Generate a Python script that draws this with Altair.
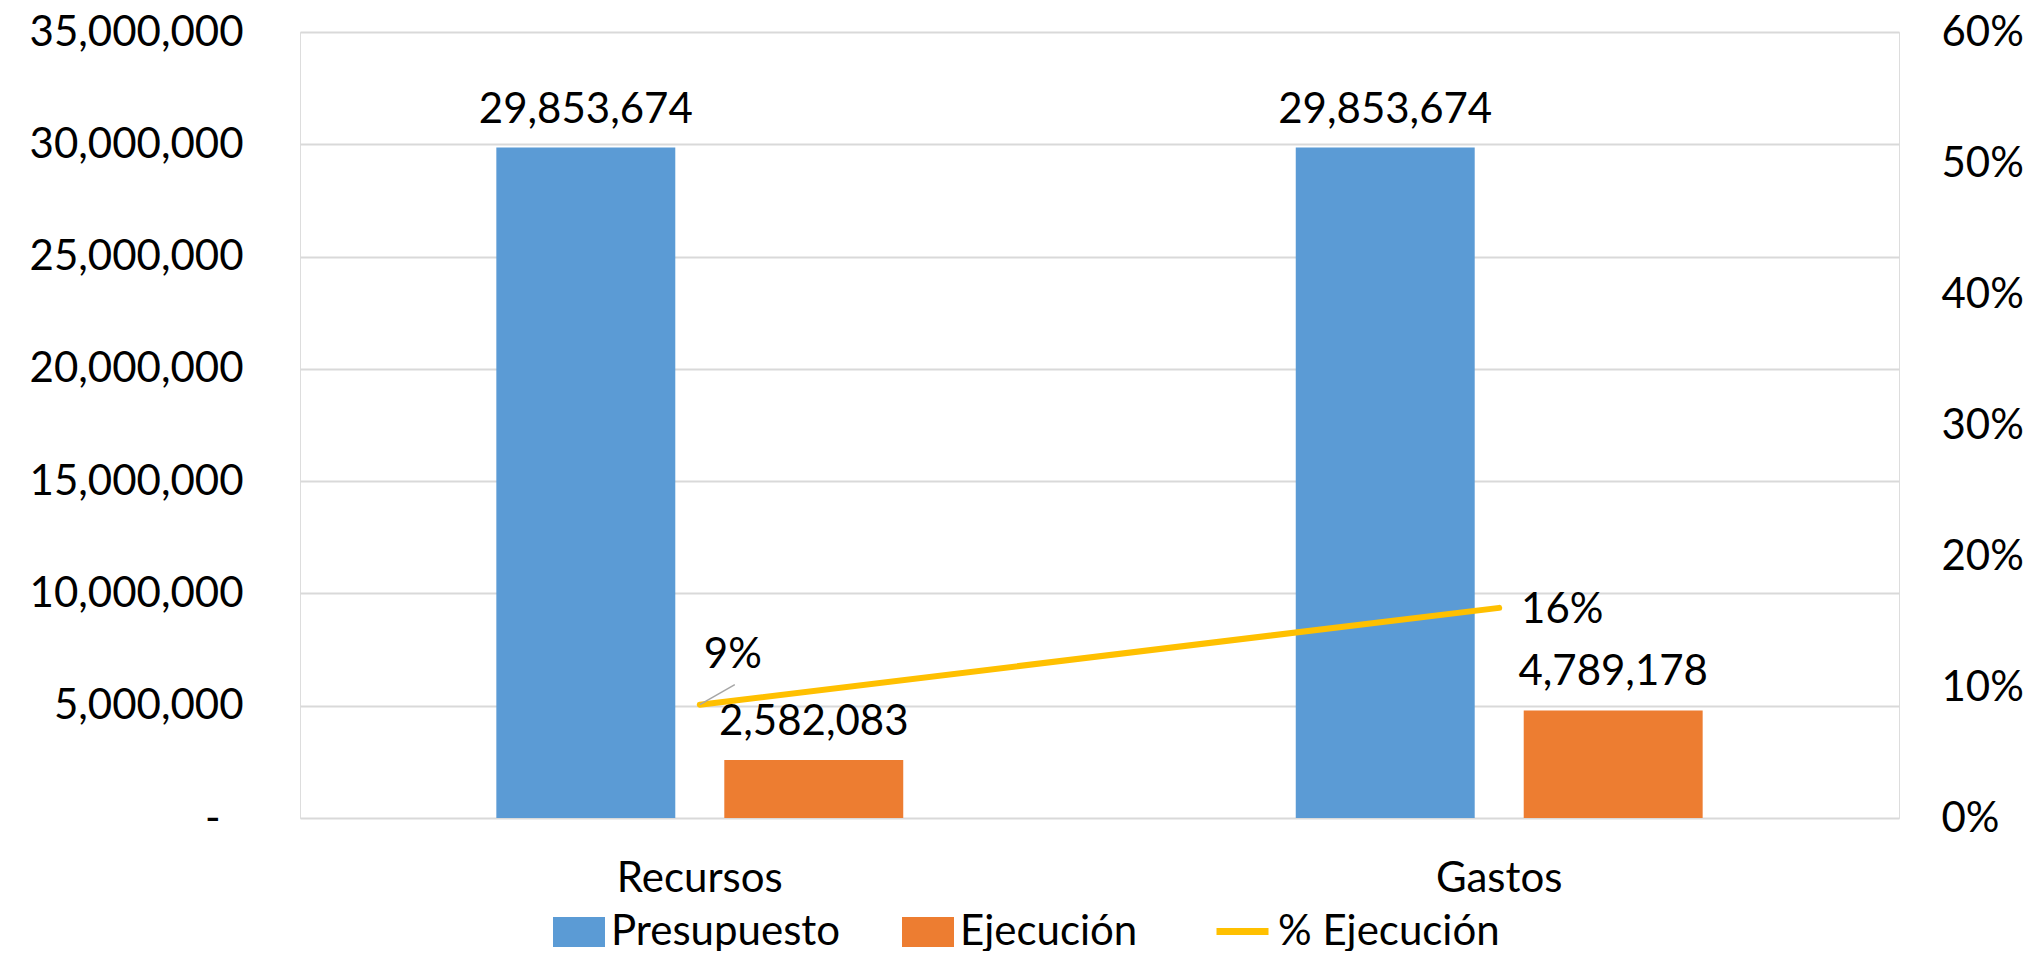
import altair as alt
import pandas as pd

# ---- data ----
categories = ["Recursos", "Gastos"]
series = ["Presupuesto", "Ejecución"]
presupuesto = [29853674, 29853674]
ejecucion = [2582083, 4789178]
pct_ejecucion = [0.0865, 0.1604]
pct_labels = ["9%", "16%"]
line_name = "% Ejecución"
left_ticks = [0, 5000000, 10000000, 15000000, 20000000, 25000000, 30000000, 35000000]
right_ticks = [0, 0.1, 0.2, 0.3, 0.4, 0.5, 0.6]

FONT = "Lato"
FS = 42
BLUE, ORANGE, GOLD = "#5B9BD5", "#ED7D31", "#FFC000"

bars_df = pd.DataFrame({
    "categoria": categories * 2,
    "serie": [series[0]] * 2 + [series[1]] * 2,
    "valor": presupuesto + ejecucion,
})
line_df = pd.DataFrame({
    "categoria": categories,
    "serie": [line_name] * 2,
    "pct": pct_ejecucion,
    "label": pct_labels,
})

x_enc = alt.X(
    "categoria:N", sort=categories,
    scale=alt.Scale(paddingInner=0.491, paddingOuter=0.2456),
    axis=alt.Axis(title=None, labelAngle=0, domain=False, ticks=False,
                  labelFontSize=FS, labelFont=FONT, labelColor="#000",
                  labelPadding=40, labelFontWeight="normal", labelLimit=600),
)
xoff = alt.XOffset("serie:N", sort=series,
                   scale=alt.Scale(domain=series, paddingInner=0.215, paddingOuter=0))
y_left_scale = alt.Scale(domain=[0, 35000000], nice=False)
y_right_scale = alt.Scale(domain=[0, 0.6], nice=False)

bars = alt.Chart(bars_df).mark_bar().encode(
    x=x_enc,
    xOffset=xoff,
    y=alt.Y("valor:Q", scale=y_left_scale,
            axis=alt.Axis(values=left_ticks, title=None, domain=False, ticks=False,
                          labelExpr="datum.value == 0 ? '-' : format(datum.value, ',')",
                          grid=True, gridColor="#D9D9D9", gridWidth=2,
                          labelFontSize=FS, labelFont=FONT, labelColor="#000",
                          labelPadding={"condition": {"test": "datum.value == 0", "value": 80}, "value": 57},
                          labelLimit=600)),
    color=alt.Color("serie:N", sort=series,
                    scale=alt.Scale(domain=series, range=[BLUE, ORANGE]),
                    legend=alt.Legend(title=None, orient="none", legendX=253, legendY=874,
                                      direction="horizontal",
                                      symbolType="M-1,-0.58L1,-0.58L1,0.58L-1,0.58Z",
                                      symbolSize=2704, symbolStrokeWidth=0, symbolOpacity=1,
                                      labelFontSize=FS, labelFont=FONT, labelColor="#000",
                                      labelOffset=6, columnPadding=61, labelLimit=600)),
)
bar_text = alt.Chart(bars_df).mark_text(
    dy=-38, fontSize=FS, font=FONT, color="#000", baseline="middle", align="center"
).encode(
    x=x_enc, xOffset=xoff,
    y=alt.Y("valor:Q", scale=y_left_scale),
    text=alt.Text("valor:Q", format=",.0f"),
)

line = alt.Chart(line_df).mark_line(strokeWidth=6, strokeCap="round").encode(
    x=x_enc,
    y=alt.Y("pct:Q", scale=y_right_scale,
            axis=alt.Axis(orient="right", values=right_ticks, format=".0%", title=None,
                          domain=False, ticks=False, grid=False,
                          labelFontSize=FS, labelFont=FONT, labelColor="#000",
                          labelPadding=42, labelLimit=600)),
    stroke=alt.Stroke("serie:N", scale=alt.Scale(domain=[line_name], range=[GOLD]),
                      legend=alt.Legend(title=None, orient="none", legendX=913, legendY=870,
                                        direction="horizontal", symbolType="stroke",
                                        symbolSize=2704, symbolStrokeWidth=7,
                                        labelFontSize=FS, labelFont=FONT, labelColor="#000",
                                        labelOffset=6, labelLimit=600)),
)
lbl1 = alt.Chart(line_df).transform_filter(
    alt.datum.categoria == categories[0]
).mark_text(dx=33, dy=-50, fontSize=FS, font=FONT, color="#000", baseline="middle", align="center").encode(
    x=x_enc, y=alt.Y("pct:Q", scale=y_right_scale), text="label:N")
lbl2 = alt.Chart(line_df).transform_filter(
    alt.datum.categoria == categories[1]
).mark_text(dx=63, dy=2, fontSize=FS, font=FONT, color="#000", baseline="middle", align="center").encode(
    x=x_enc, y=alt.Y("pct:Q", scale=y_right_scale), text="label:N")
leader = alt.Chart(line_df).transform_filter(
    alt.datum.categoria == categories[0]
).mark_rule(color="#A6A6A6", strokeWidth=1.5, x2Offset=35, y2Offset=-20).encode(
    x=x_enc, x2=alt.X2("categoria:N"),
    y=alt.Y("pct:Q", scale=y_right_scale), y2=alt.Y2("pct:Q"))

left = alt.layer(bars, bar_text)
right = alt.layer(line, leader, lbl1, lbl2)

chart = alt.layer(left, right).resolve_scale(y="independent").properties(
    width=1599, height=786,
    autosize=alt.AutoSizeParams(type="none"),
    padding={"left": 292, "top": 24, "right": 127, "bottom": 133},
).configure_view(stroke=None).configure(font=FONT)

chart.save("out.html", embed_options={"renderer": "svg", "actions": False})
